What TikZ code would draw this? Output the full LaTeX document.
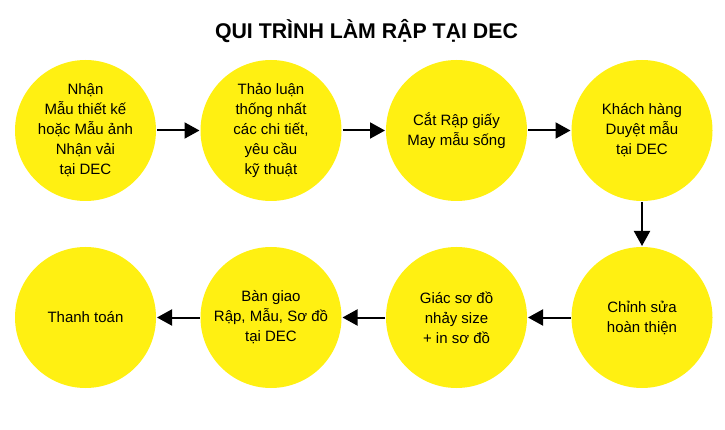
\documentclass[tikz,border=0pt]{standalone}
\usepackage{fontspec}
\setmainfont{Liberation Sans}
\usetikzlibrary{arrows.meta}
\definecolor{stepyellow}{RGB}{255,240,18}

\begin{document}
\begin{tikzpicture}[x=1pt,y=-1pt]
\tikzstyle{stepnode}=[circle, fill=stepyellow, minimum size=141pt, inner sep=0pt, outer sep=1pt, align=center, font=\fontsize{15}{20}\selectfont]
\tikzstyle{flow}=[line width=2pt, -{Triangle[length=15pt,width=16pt]}]
    \useasboundingbox (0,0) rectangle (725,430);
    \node (title) at (366.5,31) {\fontsize{21.3}{25}\selectfont\bfseries QUI TRÌNH LÀM RẬP TẠI DEC};
    \node[stepnode] (nhan) at (85.5,130.5) {Nhận\\Mẫu thiết kế\\hoặc Mẫu ảnh\\Nhận vải\\tại DEC};
    \node[stepnode] (thaoluan) at (271,130.5) {Thảo luận\\thống nhất\\các chi tiết,\\yêu cầu\\kỹ thuật};
    \node[stepnode] (catrap) at (456.5,130.5) {Cắt Rập giấy\\May mẫu sống};
    \node[stepnode] (duyet) at (642,130.5) {Khách hàng\\Duyệt mẫu\\tại DEC};
    \node[stepnode] (chinhsua) at (642,317.5) {Chỉnh sửa\\hoàn thiện};
    \node[stepnode] (giac) at (456.5,317.5) {Giác sơ đồ\\nhảy size\\+ in sơ đồ};
    \node[stepnode] (bangiao) at (271,317.5) {Bàn giao\\Rập, Mẫu, Sơ đồ\\tại DEC};
    \node[stepnode] (thanhtoan) at (85.5,317.5) {Thanh toán};
    \draw [flow] (nhan) -- (thaoluan);
    \draw [flow] (thaoluan) -- (catrap);
    \draw [flow] (catrap) -- (duyet);
    \draw [flow] (duyet) -- (chinhsua);
    \draw [flow] (chinhsua) -- (giac);
    \draw [flow] (giac) -- (bangiao);
    \draw [flow] (bangiao) -- (thanhtoan);
\end{tikzpicture}
\end{document}
